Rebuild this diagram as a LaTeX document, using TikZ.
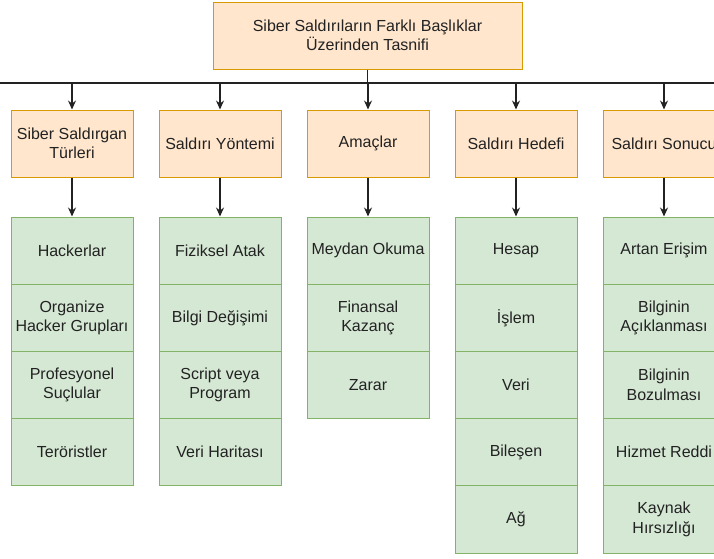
\documentclass[tikz,border=0pt]{standalone}
\usepackage{fontspec}
\setmainfont{Liberation Sans}
\usetikzlibrary{arrows.meta,positioning}
\definecolor{headfill}{HTML}{FFE6CC}
\definecolor{headline}{HTML}{D79B00}
\definecolor{itemfill}{HTML}{D5E8D4}
\definecolor{itemline}{HTML}{82B366}
\definecolor{ink}{HTML}{222222}
\tikzset{cat/.style={
        draw=headline,
        fill=headfill,
        line width=1pt,
        minimum width=122pt,
        minimum height=67pt,
        inner sep=0pt,
        align=center,
        text=ink,
        font=\fontsize{16}{19.5}\selectfont,
    },
    item/.style={
        cat,
        draw=itemline,
        fill=itemfill,
        minimum height=67.2pt,
    },
    link/.style={
        draw=ink,
        line width=1.2pt,
    }
}

\begin{document}
\begin{tikzpicture}[x=1pt,y=-1pt,node distance=67.2pt and 148pt,on grid]
  \useasboundingbox (0,0) rectangle (714,558);
  \clip (0,0) rectangle (714,558);
  \node[cat, minimum width=309pt] (top) at (367.5,35.5) {Siber Saldırıların Farklı Başlıklar\\Üzerinden Tasnifi};
  \node[cat] (attacker) at (72,143.5) {Siber Saldırgan\\Türleri};
  \node[cat] (method) [right=of attacker] {Saldırı Yöntemi};
  \node[cat] (goal) [right=of method] {Amaçlar};
  \node[cat] (target) [right=of goal] {Saldırı Hedefi};
  \node[cat] (result) [right=of target] {Saldırı Sonucu};
  % first column
  \node[item] (hack) [below=107.1pt of attacker] {Hackerlar};
  \node[item] (group) [below=of hack] {Organize\\Hacker Grupları};
  \node[item] (crim) [below=of group] {Profesyonel\\Suçlular};
  \node[item] (terr) [below=of crim] {Teröristler};
  % second column
  \node[item] (phys) [below=107.1pt of method] {Fiziksel Atak};
  \node[item] (info) [below=of phys] {Bilgi Değişimi};
  \node[item] (script) [below=of info] {Script veya\\Program};
  \node[item] (map) [below=of script] {Veri Haritası};
  % third column
  \node[item] (chal) [below=107.1pt of goal] {Meydan Okuma};
  \node[item] (gain) [below=of chal] {Finansal\\Kazanç};
  \node[item] (harm) [below=of gain] {Zarar};
  % fourth column
  \node[item] (acct) [below=107.1pt of target] {Hesap};
  \node[item] (proc) [below=of acct] {İşlem};
  \node[item] (data) [below=of proc] {Veri};
  \node[item] (comp) [below=of data] {Bileşen};
  \node[item] (net) [below=of comp] {Ağ};
  % fifth column
  \node[item] (access) [below=107.1pt of result] {Artan Erişim};
  \node[item] (leak) [below=of access] {Bilginin\\Açıklanması};
  \node[item] (corr) [below=of leak] {Bilginin\\Bozulması};
  \node[item] (dos) [below=of corr] {Hizmet Reddi};
  \node[item] (theft) [below=of dos] {Kaynak\\Hırsızlığı};
  % connectors
  \coordinate (busL) at (0,83);
  \coordinate (busR) at (714,83);
  \draw[link] (busL) -- (busR);
  \draw[link] (top) -- (top.south |- busL);
  \foreach \c/\f in {attacker/hack,method/phys,goal/chal,target/acct,result/access}{
    \draw[link, -{Stealth[length=9pt,width=8pt]}] (\c.north |- busL) -- (\c);
    \draw[link, -{Stealth[length=9pt,width=8pt]}] (\c) -- (\f);
  }
\end{tikzpicture}
\end{document}
